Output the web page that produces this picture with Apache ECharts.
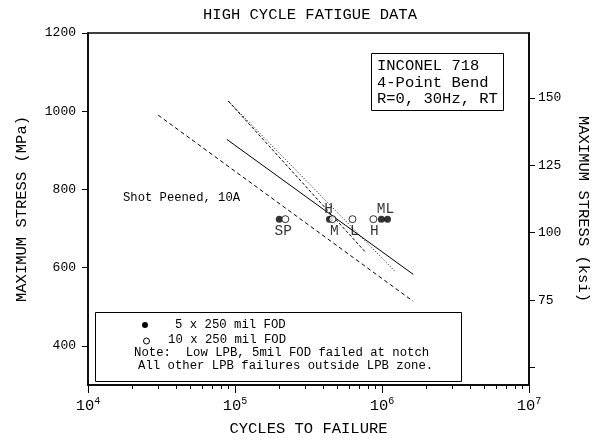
<!DOCTYPE html>
<html>
<head>
<meta charset="utf-8">
<script src="https://cdn.jsdelivr.net/npm/echarts@6/dist/echarts.min.js"></script>
<style>
  html, body { margin: 0; padding: 0; background: #fff; }
  #chart { width: 600px; height: 442px; }
</style>
</head>
<body>
<div id="chart"></div>
<script>
const FONT = '"Liberation Mono", "DejaVu Sans Mono", monospace';
const MPA_PER_KSI = 6.894757;

// S-N trend lines, endpoints as [cycles], [MPa]
const solidCycles = [88000, 1630000];
const solidStress = [928, 583];
const peenedCycles = [30000, 1630000];
const peenedStress = [990, 514];
const dashedCycles = [90000, 770000];
const dashedStress = [1026, 640];
const dottedCycles = [90000, 1230000];
const dottedStress = [1026, 590];

// FOD test results, all run at 105 ksi
const fod5Cycles = [200000, 439000, 990000, 1090000];
const fod5Stress = [724, 724, 724, 724];
const fod10Cycles = [220000, 460000, 630000, 874000];
const fod10Stress = [724, 724, 724, 724];

// LPB intensity tags beside the points
const tagText = ['SP', 'H', 'M', 'L', 'H', 'ML'];
const tagCycles = [213000, 433000, 474000, 649000, 887000, 1055000];
const tagStress = [724, 724, 724, 724, 724, 724];
const tagSide = ['below', 'above', 'below', 'below', 'below', 'above'];

// axis ticks
const mpaTicks = [400, 600, 800, 1000, 1200];
const ksiTicks = [50, 75, 100, 125, 150];
const ksiLabels = [75, 100, 125, 150];

// minor ticks at 2..9 x 10^n, placed in log10 units
const minorLogTicks = [];
for (let e = 4; e < 7; e++) {
  for (let k = 2; k <= 9; k++) minorLogTicks.push(e + Math.log10(k));
}

const pairs = (xs, ys) => xs.map((x, i) => [x, ys[i]]);

function trend(name, xs, ys, type) {
  return {
    name, type: 'line', xAxisIndex: 0, yAxisIndex: 0,
    data: pairs(xs, ys), symbol: 'none', silent: true,
    lineStyle: { color: '#000', width: 1, type }
  };
}

const chart = echarts.init(document.getElementById('chart'), null, { renderer: 'canvas' });

chart.setOption({
  animation: false,
  backgroundColor: '#fff',
  textStyle: { fontFamily: FONT, color: '#000' },
  grid: {
    left: 88, right: 71, top: 33, bottom: 52,
    show: true, borderColor: '#000', borderWidth: 1.5, backgroundColor: 'transparent'
  },
  xAxis: [
    {
      type: 'log', logBase: 10, min: 1e4, max: 1e7, interval: 1,
      position: 'bottom',
      name: 'CYCLES TO FAILURE', nameLocation: 'middle', nameGap: 36,
      nameTextStyle: { fontFamily: FONT, fontSize: 15.5, color: '#000' },
      axisLine: { show: true, lineStyle: { color: '#000', width: 1.5 } },
      axisTick: { show: true, inside: false, length: 8, lineStyle: { color: '#000', width: 1 } },
      axisLabel: {
        margin: 11, color: '#000',
        formatter: v => '{b|10}{s|' + Math.round(Math.log10(v)) + '}',
        rich: {
          b: { fontFamily: FONT, fontSize: 15.5, color: '#000' },
          s: { fontFamily: FONT, fontSize: 10, color: '#000', padding: [0, 0, 10, 0] }
        }
      },
      splitLine: { show: false }, minorTick: { show: false }
    },
    {
      type: 'value', min: 4, max: 7, position: 'bottom',
      axisLine: { show: false },
      axisTick: { show: true, length: 4, customValues: minorLogTicks, lineStyle: { color: '#000', width: 1 } },
      axisLabel: { show: false },
      splitLine: { show: false }
    }
  ],
  yAxis: [
    {
      type: 'value', min: 300, max: 1200, position: 'left',
      name: 'MAXIMUM STRESS (MPa)', nameLocation: 'middle', nameGap: 58, nameRotate: 90,
      nameTextStyle: { fontFamily: FONT, fontSize: 15.5, color: '#000' },
      axisLine: { show: true, lineStyle: { color: '#000', width: 1.5 } },
      axisTick: { show: true, length: 6, customValues: mpaTicks, lineStyle: { color: '#000', width: 1 } },
      axisLabel: {
        customValues: mpaTicks, margin: 12, fontFamily: FONT, fontSize: 13, color: '#000',
        formatter: v => String(v)
      },
      splitLine: { show: false }
    },
    {
      type: 'value', min: 300 / MPA_PER_KSI, max: 1200 / MPA_PER_KSI, position: 'right',
      name: 'MAXIMUM STRESS (ksi)', nameLocation: 'middle', nameGap: 46, nameRotate: -90,
      nameTextStyle: { fontFamily: FONT, fontSize: 15.5, color: '#000' },
      axisLine: { show: true, lineStyle: { color: '#000', width: 1.5 } },
      axisTick: { show: true, length: 6, customValues: ksiTicks, lineStyle: { color: '#000', width: 1 } },
      axisLabel: {
        customValues: ksiLabels, margin: 9, fontFamily: FONT, fontSize: 13, color: '#000',
        formatter: v => String(v)
      },
      splitLine: { show: false }
    }
  ],
  series: [
    trend('Shot peened', peenedCycles, peenedStress, [4, 3]),
    trend('Baseline', solidCycles, solidStress, 'solid'),
    trend('LPB dashed', dashedCycles, dashedStress, [3, 2]),
    trend('LPB dotted', dottedCycles, dottedStress, [1, 2]),
    {
      name: '5 x 250 mil FOD', type: 'scatter', xAxisIndex: 0, yAxisIndex: 0,
      data: pairs(fod5Cycles, fod5Stress), symbol: 'circle', symbolSize: 7,
      itemStyle: { color: '#000' }, z: 3
    },
    {
      name: '10 x 250 mil FOD', type: 'scatter', xAxisIndex: 0, yAxisIndex: 0,
      data: pairs(fod10Cycles, fod10Stress), symbol: 'circle', symbolSize: 7,
      itemStyle: { color: '#fff', borderColor: '#000', borderWidth: 1 }, z: 4
    },
    {
      name: 'tags', type: 'scatter', xAxisIndex: 0, yAxisIndex: 0, silent: true,
      symbolSize: 0,
      data: tagText.map((t, i) => ({
        value: [tagCycles[i], tagStress[i]],
        label: { offset: [0, tagSide[i] === 'above' ? -10 : 12] }
      })),
      label: {
        show: true, position: 'inside',
        formatter: p => tagText[p.dataIndex],
        fontFamily: FONT, fontSize: 14.5, color: '#000'
      },
      z: 5
    }
  ],
  graphic: [
    {
      type: 'text', x: 310, y: 15,
      style: {
        text: 'HIGH CYCLE FATIGUE DATA', font: '15.5px ' + FONT, fill: '#000',
        textAlign: 'center', textVerticalAlign: 'middle'
      }
    },
    {
      type: 'text', x: 123, y: 198,
      style: { text: 'Shot Peened, 10A', font: '12.2px ' + FONT, fill: '#000', textVerticalAlign: 'middle' }
    },
    // material / test condition box
    {
      type: 'rect', shape: { x: 371.5, y: 53.5, width: 132, height: 57 },
      style: { fill: '#fff', stroke: '#000', lineWidth: 1 }
    },
    {
      type: 'text', x: 377, y: 58,
      style: {
        text: 'INCONEL 718\n4-Point Bend\nR=0, 30Hz, RT',
        font: '15.5px ' + FONT, lineHeight: 16.5, fill: '#000'
      }
    },
    // symbol key and note box
    {
      type: 'rect', shape: { x: 95.5, y: 312.5, width: 366, height: 69 },
      style: { fill: '#fff', stroke: '#000', lineWidth: 1 }
    },
    { type: 'circle', shape: { cx: 145, cy: 325, r: 3 }, style: { fill: '#000' } },
    { type: 'circle', shape: { cx: 146.5, cy: 341, r: 3 }, style: { fill: '#fff', stroke: '#000', lineWidth: 1 } },
    {
      type: 'text', x: 175, y: 325,
      style: { text: '5 x 250 mil FOD', font: '12.3px ' + FONT, fill: '#000', textVerticalAlign: 'middle' }
    },
    {
      type: 'text', x: 168, y: 340,
      style: { text: '10 x 250 mil FOD', font: '12.3px ' + FONT, fill: '#000', textVerticalAlign: 'middle' }
    },
    {
      type: 'text', x: 134, y: 353,
      style: { text: 'Note:  Low LPB, 5mil FOD failed at notch', font: '12.3px ' + FONT, fill: '#000', textVerticalAlign: 'middle' }
    },
    {
      type: 'text', x: 138, y: 366,
      style: { text: 'All other LPB failures outside LPB zone.', font: '12.3px ' + FONT, fill: '#000', textVerticalAlign: 'middle' }
    }
  ]
});
</script>
</body>
</html>
